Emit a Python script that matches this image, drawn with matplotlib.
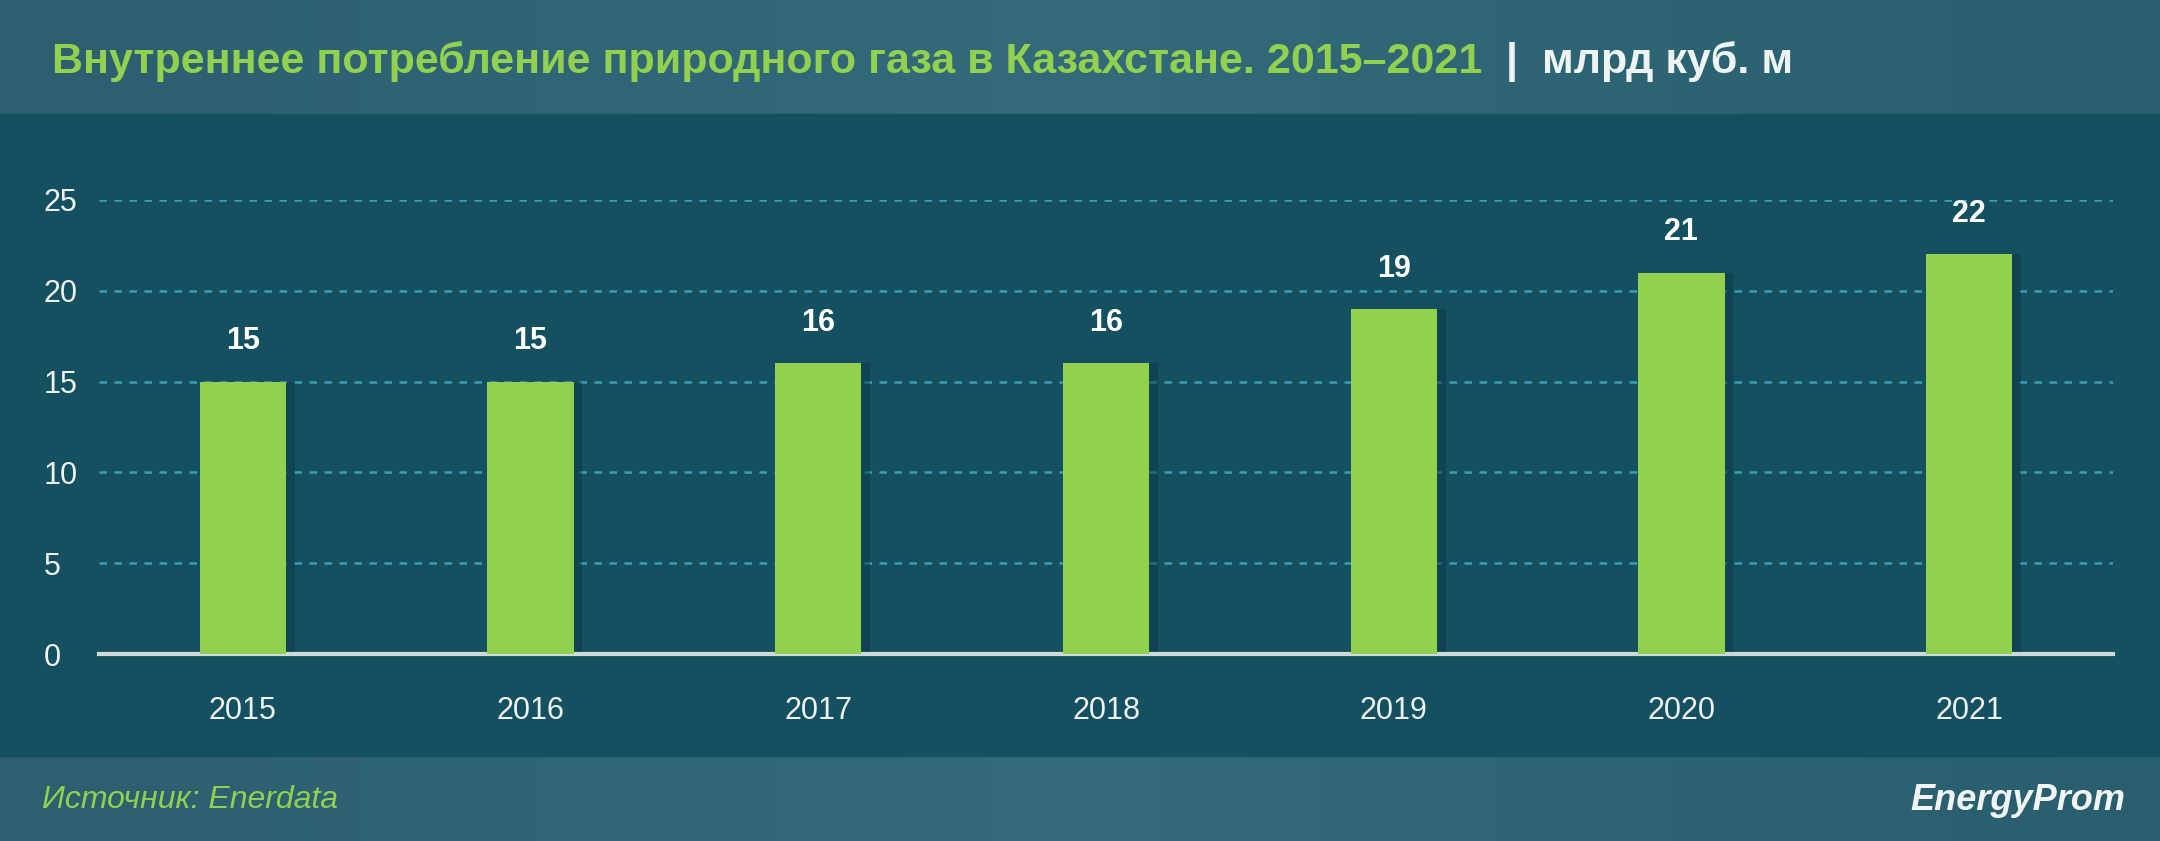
import matplotlib
matplotlib.use("Agg")
import matplotlib.pyplot as plt
from matplotlib.patches import Rectangle
from matplotlib.colors import LinearSegmentedColormap
import numpy as np

years = ["2015", "2016", "2017", "2018", "2019", "2020", "2021"]
values = [15, 15, 16, 16, 19, 21, 22]
yticks = [0, 5, 10, 15, 20, 25]

plt.rcParams['font.family'] = ['Liberation Sans', 'DejaVu Sans']

W, H = 2160, 841
fig = plt.figure(figsize=(W / 100, H / 100), dpi=100)

# фон: шапка, область графика, подвал
bg = fig.add_axes([0, 0, 1, 1])
grad = np.linspace(0, 1, 256).reshape(1, -1)
cmap = LinearSegmentedColormap.from_list("g", ["#2c5f6f", "#336b7a", "#285e6d"])
bg.imshow(grad, cmap=cmap, extent=[0, W, 114, 0], aspect="auto")
bg.imshow(grad, cmap=cmap, extent=[0, W, H, 756], aspect="auto")
bg.add_patch(Rectangle((0, 114), W, 642, color="#14505f"))
bg.set_xlim(0, W)
bg.set_ylim(H, 0)
bg.axis("off")

t = bg.text(52, 62, "Внутреннее потребление природного газа в Казахстане. 2015–2021",
            color="#92d050", fontsize=31, fontweight="bold", va="center", ha="left")
bg.annotate("  |  млрд куб. м", xy=(1, 0.5), xycoords=t, va="center", ha="left",
            color="#eef3f4", fontsize=31, fontweight="bold")
bg.text(42, 800, "Источник: Enerdata", color="#92d050", fontsize=23, style="italic",
        va="center", ha="left")
bg.text(2125, 800, "EnergyProm", color="#f2f5f6", fontsize=26, style="italic",
        fontweight="bold", va="center", ha="right")

# график
ax = fig.add_axes([99 / W, 1 - 654 / H, (2113 - 99) / W, (654 - 200) / H])
ax.patch.set_alpha(0)
x = np.arange(len(years))
ax.bar(x + 0.03, values, width=0.3, color="#0c3a46", alpha=0.5, zorder=2)
ax.bar(x, values, width=0.3, color="#92d050", zorder=3)
for xi, v in zip(x, values):
    ax.text(xi, v + 1.4, str(v), color="white", fontsize=22, fontweight="bold",
            ha="center", va="bottom")
ax.set_ylim(0, 25)
ax.set_xlim(-0.5, len(years) - 0.5)
ax.set_yticks(yticks)
ax.yaxis.grid(True, color="#3a9fb4", linestyle=(0, (3, 3)), linewidth=1.8)
ax.set_axisbelow(True)
ax.set_xticks(x)
ax.set_xticklabels(years)
ax.tick_params(length=0, labelcolor="#eef3f4", labelsize=22)
ax.tick_params(axis="x", pad=30)
ax.tick_params(axis="y", pad=40)
for lab in ax.get_yticklabels():
    lab.set_horizontalalignment("left")
for s in ["top", "right", "left"]:
    ax.spines[s].set_visible(False)
ax.spines["bottom"].set_color("#d0d8da")
ax.spines["bottom"].set_linewidth(3)

fig.savefig("out.png", dpi=100)
